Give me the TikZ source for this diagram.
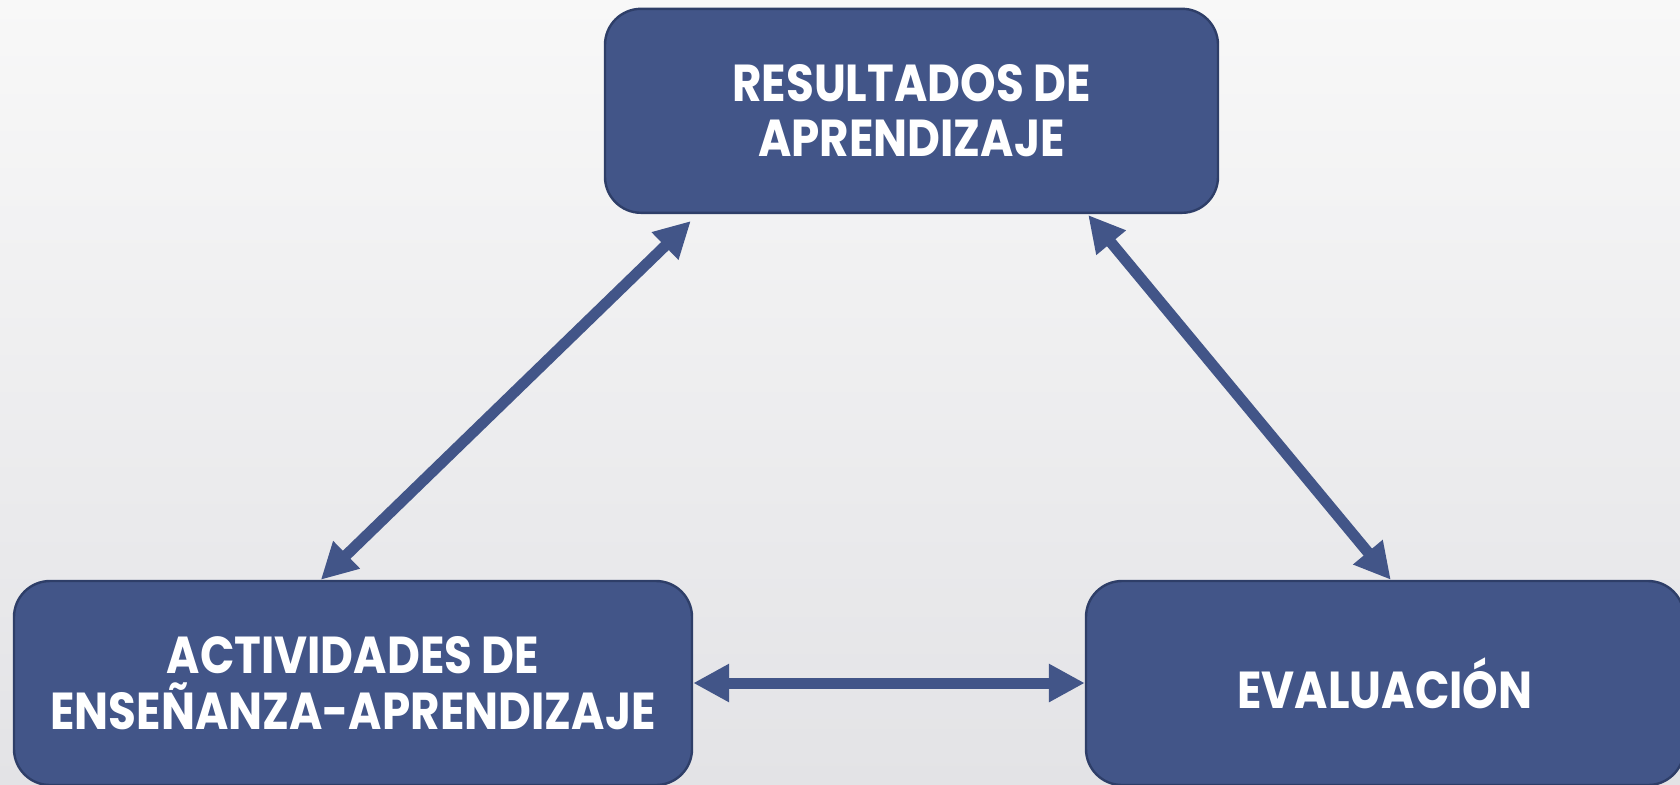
\documentclass[tikz,border=0pt]{standalone}
\usepackage{fontspec}
\setmainfont{Poppins}[BoldFont={* Bold}, FakeStretch=0.87]
\usetikzlibrary{arrows.meta}

\definecolor{boxblue}{RGB}{66,85,136}
\definecolor{boxedge}{RGB}{46,62,104}
\definecolor{bgtop}{RGB}{248,248,248}
\definecolor{bgbot}{RGB}{227,227,230}

\tikzset{
	bloque/.style={draw=boxedge, line width=1.2pt, fill=boxblue, rounded corners=18pt,
		text=white, align=center, inner sep=0pt,
		font=\fontsize{26}{27.8}\selectfont\bfseries},
	enlace/.style={boxblue, line width=5.5pt,
		{Triangle[length=18pt,width=18pt]}-{Triangle[length=18pt,width=18pt]}}
}

\begin{document}
\begin{tikzpicture}[x=0.5pt,y=-0.5pt]
		%fondo
		\shade[top color=bgtop, bottom color=bgbot] (0,0) rectangle (1680,784);
		\useasboundingbox (0,0) rectangle (1680,784);

		% cajas
		\node[bloque, minimum width=306.5pt, minimum height=102pt] (resultados) at (911.5,110.8) {RESULTADOS DE\\APRENDIZAJE};
		\node[bloque, minimum width=339pt, minimum height=102pt] (actividades) at (353,683) {ACTIVIDADES DE\\ENSEÑANZA-APRENDIZAJE};
		\node[bloque, minimum width=299pt, minimum height=102pt] (evaluacion) at (1385,683) {EVALUACIÓN};

		% flechas
		\draw[enlace] ([xshift=154pt]actividades.north west) -- ([xshift=43.5pt,yshift=-3.5pt]resultados.south west);
		\draw[enlace] ([xshift=-65.5pt,yshift=-0.5pt]resultados.south east) -- ([xshift=153pt]evaluacion.north west);
		\draw[enlace] (actividades.east) -- (evaluacion.west);

	\end{tikzpicture}
\end{document}
